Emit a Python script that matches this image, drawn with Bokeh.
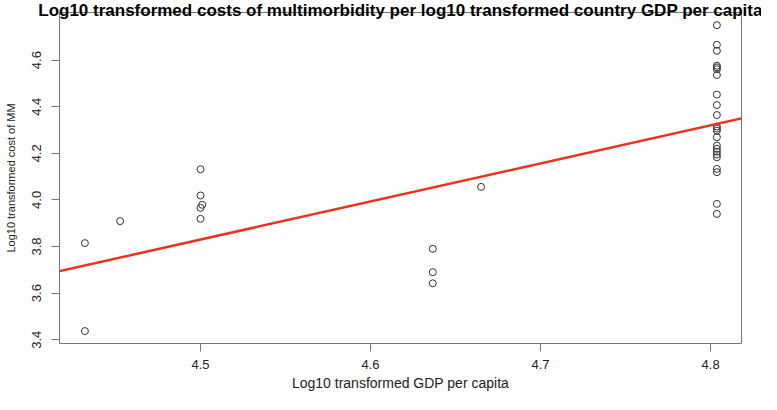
from bokeh.plotting import figure
from bokeh.models import Range1d, FixedTicker, Slope, ColumnDataSource
from bokeh.embed import file_html
from bokeh.resources import INLINE

# ---- data ----
gdp_log = [4.432, 4.432, 4.4527, 4.500, 4.500, 4.501, 4.500, 4.500,
           4.6366, 4.6366, 4.6366, 4.665,
           4.8037, 4.8037, 4.8037, 4.8037, 4.8037, 4.8037, 4.8037, 4.8037,
           4.8037, 4.8037, 4.8037, 4.8037, 4.8037, 4.8037, 4.8037, 4.8037,
           4.8037, 4.8037, 4.8037, 4.8037, 4.8037, 4.8037, 4.8037]
cost_log = [3.8145, 3.437, 3.909, 4.1317, 4.019, 3.979, 3.966, 3.9187,
            3.790, 3.690, 3.642, 4.056,
            4.750, 4.666, 4.640, 4.576, 4.569, 4.561, 4.536, 4.452,
            4.407, 4.364, 4.315, 4.306, 4.297, 4.269, 4.233, 4.219,
            4.207, 4.195, 4.183, 4.133, 4.119, 3.983, 3.940]
fit_intercept = -3.525
fit_slope = 1.6344

x_ticks = [4.5, 4.6, 4.7, 4.8]
x_tick_labels = ["4.5", "4.6", "4.7", "4.8"]
y_ticks = [3.4, 3.6, 3.8, 4.0, 4.2, 4.4, 4.6]
y_tick_labels = ["3.4", "3.6", "3.8", "4.0", "4.2", "4.4", "4.6"]

title_text = "Log10 transformed costs of multimorbidity per log10 transformed country GDP per capita"
x_label = "Log10 transformed GDP per capita"
y_label = "Log10 transformed cost of MM"

FONT = "Liberation Sans"
BOX = "#777777"
TXT = "#222222"

p = figure(width=761, height=394,
           x_range=Range1d(4.41706, 4.81818), y_range=Range1d(3.3837, 4.8044),
           output_backend="svg", toolbar_location=None,
           min_border_left=59, min_border_right=20,
           min_border_top=12, min_border_bottom=51,
           title=title_text)
p.title.text_font = FONT
p.title.text_font_size = "17px"
p.title.text_font_style = "bold"
p.title.text_color = "black"
p.title.align = "center"
p.title.standoff = -15

p.xgrid.visible = False
p.ygrid.visible = False
p.outline_line_color = BOX
p.outline_line_width = 1
p.background_fill_color = "white"
p.border_fill_color = "white"

src = ColumnDataSource(dict(x=gdp_log, y=cost_log))
p.scatter("x", "y", source=src, marker="circle", size=7,
          fill_color=None, line_color="#333333", line_width=1)

p.add_layout(Slope(gradient=fit_slope, y_intercept=fit_intercept,
                   line_color="#e8341c", line_width=2.5))

for ax in (p.xaxis[0], p.yaxis[0]):
    ax.axis_line_color = None
    ax.major_tick_line_color = BOX
    ax.major_tick_out = 8
    ax.major_tick_in = 0
    ax.minor_tick_line_color = None
    ax.major_label_text_font = FONT
    ax.major_label_text_font_size = "13px"
    ax.major_label_text_color = TXT
    ax.axis_label_text_font = FONT
    ax.axis_label_text_font_style = "normal"
    ax.axis_label_text_color = TXT

p.xaxis.ticker = FixedTicker(ticks=x_ticks)
p.xaxis.major_label_overrides = dict(zip(x_ticks, x_tick_labels))
p.xaxis.major_label_standoff = 8
p.xaxis.axis_label = x_label
p.xaxis.axis_label_text_font_size = "14px"
p.xaxis.axis_label_standoff = 3

p.yaxis.ticker = FixedTicker(ticks=y_ticks)
p.yaxis.major_label_overrides = dict(zip(y_ticks, y_tick_labels))
p.yaxis.major_label_orientation = "vertical"
p.yaxis.major_label_standoff = 10
p.yaxis.axis_label = y_label
p.yaxis.axis_label_text_font_size = "11px"
p.yaxis.axis_label_standoff = 13

open("out.html", "w").write(file_html(p, INLINE))
